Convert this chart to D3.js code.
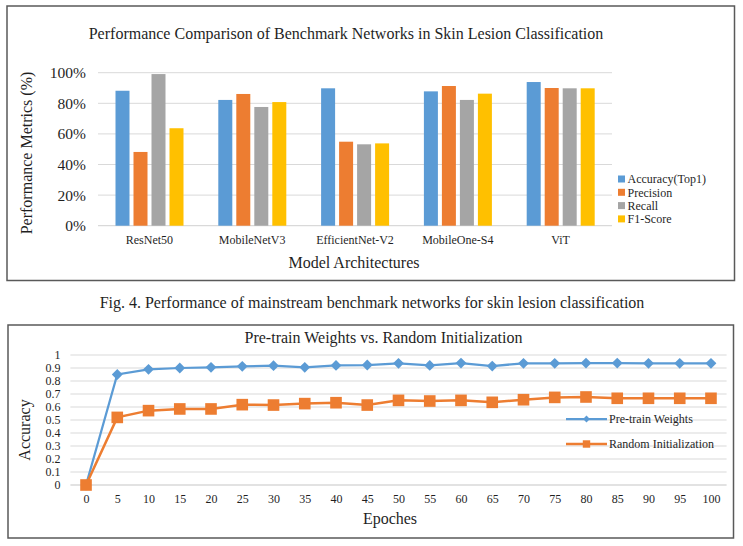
<!DOCTYPE html>
<html>
<head>
<meta charset="utf-8">
<script src="https://cdn.jsdelivr.net/npm/d3@7"></script>
<style>
  html, body { margin: 0; padding: 0; background: #fff; }
  svg text { font-family: "Liberation Serif", "Times New Roman", serif; fill: #1f1f1f; }
</style>
</head>
<body>
<svg id="chart" width="743" height="546"></svg>
<script>
// ---- Data: top chart (grouped bars) ----
const models = ["ResNet50", "MobileNetV3", "EfficientNet-V2", "MobileOne-S4", "ViT"];
const metricNames = ["Accuracy(Top1)", "Precision", "Recall", "F1-Score"];
const accuracy  = [0.882, 0.822, 0.898, 0.878, 0.939];
const precision = [0.482, 0.861, 0.549, 0.913, 0.900];
const recall    = [0.991, 0.776, 0.532, 0.822, 0.898];
const f1score   = [0.637, 0.808, 0.538, 0.863, 0.898];
const pctTicks  = [0, 0.2, 0.4, 0.6, 0.8, 1.0];

// ---- Data: bottom chart (lines) ----
const epochs = [0, 5, 10, 15, 20, 25, 30, 35, 40, 45, 50, 55, 60, 65, 70, 75, 80, 85, 90, 95, 100];
const pretrainWeights = [0, 0.85, 0.89, 0.90, 0.905, 0.913, 0.918, 0.905, 0.92, 0.923, 0.936,
                         0.92, 0.938, 0.915, 0.936, 0.936, 0.938, 0.938, 0.936, 0.936, 0.936];
const randomInit = [0, 0.52, 0.572, 0.585, 0.585, 0.618, 0.615, 0.626, 0.633, 0.615, 0.651,
                    0.646, 0.651, 0.636, 0.656, 0.674, 0.677, 0.667, 0.667, 0.667, 0.667];
const accTicks = [0, 0.1, 0.2, 0.3, 0.4, 0.5, 0.6, 0.7, 0.8, 0.9, 1];

const colors = ["#5B9BD5", "#ED7D31", "#A5A5A5", "#FFC000"];
const gridColor = "#D9D9D9";
const serif = "'Liberation Serif', 'Times New Roman', serif";

const svg = d3.select("#chart");

// =================== TOP CHART ===================
const gTop = svg.append("g");
gTop.append("rect").attr("x", 7).attr("y", 6).attr("width", 727.5).attr("height", 274.5)
  .attr("fill", "none").attr("stroke", "#595959").attr("stroke-width", 1.5);

gTop.append("text").attr("x", 346).attr("y", 39).attr("text-anchor", "middle")
  .attr("font-size", 16).text("Performance Comparison of Benchmark Networks in Skin Lesion Classification");

const x0 = d3.scaleBand().domain(models).range([98, 612]).paddingInner(0).paddingOuter(0);
const x1 = d3.scaleBand().domain(metricNames).range([17.5, 85.5]).paddingInner(4 / 18).paddingOuter(0);
const yTop = d3.scaleLinear().domain([0, 1]).range([225.7, 72.7]);

// gridlines
gTop.append("g").selectAll("line").data(pctTicks).join("line")
  .attr("x1", 98).attr("x2", 612)
  .attr("y1", d => yTop(d)).attr("y2", d => yTop(d))
  .attr("stroke", gridColor).attr("stroke-width", d => d === 0 ? 1.3 : 1);

// y axis labels
const yAxisTop = d3.axisLeft(yTop).tickValues(pctTicks).tickFormat(d3.format(".0%")).tickSize(0).tickPadding(12);
const yg = gTop.append("g").attr("transform", "translate(98,0)").call(yAxisTop);
yg.select(".domain").remove();
yg.selectAll("text").attr("font-size", 15.5).attr("fill", "#1f1f1f").style("font-family", serif);

// bars
const seriesTop = [accuracy, precision, recall, f1score];
const groups = gTop.append("g").selectAll("g").data(models).join("g")
  .attr("transform", d => `translate(${x0(d)},0)`);
groups.selectAll("rect").data((d, i) => metricNames.map((m, j) => ({ m, v: seriesTop[j][i], j })))
  .join("rect")
  .attr("x", d => x1(d.m)).attr("width", x1.bandwidth())
  .attr("y", d => yTop(d.v)).attr("height", d => yTop(0) - yTop(d.v))
  .attr("fill", d => colors[d.j]);

// x labels
const xAxisTop = d3.axisBottom(x0).tickSize(0).tickPadding(10);
const xg = gTop.append("g").attr("transform", `translate(0,${yTop(0)})`).call(xAxisTop);
xg.select(".domain").remove();
xg.selectAll("text").attr("font-size", 12).attr("fill", "#1f1f1f").style("font-family", serif);

// axis titles
gTop.append("text").attr("transform", "translate(32,153) rotate(-90)").attr("text-anchor", "middle")
  .attr("font-size", 16).text("Performance Metrics (%)");
gTop.append("text").attr("x", 354).attr("y", 268).attr("text-anchor", "middle")
  .attr("font-size", 16).text("Model Architectures");

// legend
const lg = gTop.append("g").selectAll("g").data(metricNames).join("g")
  .attr("transform", (d, i) => `translate(618,${179 + i * 13.3})`);
lg.append("rect").attr("x", 0).attr("y", -3.5).attr("width", 7).attr("height", 7)
  .attr("fill", (d, i) => colors[i]);
lg.append("text").attr("x", 9.5).attr("y", 4.2).attr("font-size", 12).text(d => d);

// caption
svg.append("text").attr("x", 372).attr("y", 308).attr("text-anchor", "middle")
  .attr("font-size", 16).text("Fig. 4. Performance of mainstream benchmark networks for skin lesion classification");

// =================== BOTTOM CHART ===================
const gBot = svg.append("g");
gBot.append("rect").attr("x", 8).attr("y", 325).attr("width", 725.5).attr("height", 213)
  .attr("fill", "none").attr("stroke", "#595959").attr("stroke-width", 1.5);

gBot.append("text").attr("x", 383.5).attr("y", 343).attr("text-anchor", "middle")
  .attr("font-size", 16).text("Pre-train Weights vs. Random Initialization");

const xB = d3.scalePoint().domain(epochs).range([70.4, 726.6]).padding(0.5);
const yB = d3.scaleLinear().domain([0, 1]).range([485, 355]);

gBot.append("g").selectAll("line").data(accTicks).join("line")
  .attr("x1", 70.4).attr("x2", 726.6)
  .attr("y1", d => yB(d)).attr("y2", d => yB(d))
  .attr("stroke", gridColor).attr("stroke-width", d => d === 0 ? 1.3 : 1);

const yAxisB = d3.axisLeft(yB).tickValues(accTicks).tickFormat(d => String(+d.toFixed(1))).tickSize(0).tickPadding(10);
const ygB = gBot.append("g").attr("transform", "translate(70.4,0)").call(yAxisB);
ygB.select(".domain").remove();
ygB.selectAll("text").attr("font-size", 12).attr("fill", "#1f1f1f").style("font-family", serif);

const xAxisB = d3.axisBottom(xB).tickSize(0).tickPadding(9);
const xgB = gBot.append("g").attr("transform", `translate(0,${yB(0)})`).call(xAxisB);
xgB.select(".domain").remove();
xgB.selectAll("text").attr("font-size", 12).attr("fill", "#1f1f1f").style("font-family", serif);

gBot.append("text").attr("transform", "translate(30,430) rotate(-90)").attr("text-anchor", "middle")
  .attr("font-size", 16).text("Accuracy");
gBot.append("text").attr("x", 390).attr("y", 524).attr("text-anchor", "middle")
  .attr("font-size", 16).text("Epoches");

const line = d3.line().x((d, i) => xB(epochs[i])).y(d => yB(d));
const diamond = d3.symbol().type(d3.symbolDiamond2);
const square = d3.symbol().type(d3.symbolSquare);

// pretrain line
gBot.append("path").datum(pretrainWeights).attr("d", line)
  .attr("fill", "none").attr("stroke", colors[0]).attr("stroke-width", 2.25);
gBot.append("g").selectAll("path").data(pretrainWeights).join("path")
  .attr("transform", (d, i) => `translate(${xB(epochs[i])},${yB(d)})`)
  .attr("d", diamond.size(75)()).attr("fill", colors[0]);

// random line
gBot.append("path").datum(randomInit).attr("d", line)
  .attr("fill", "none").attr("stroke", colors[1]).attr("stroke-width", 2.5);
gBot.append("g").selectAll("path").data(randomInit).join("path")
  .attr("transform", (d, i) => `translate(${xB(epochs[i])},${yB(d)})`)
  .attr("d", square.size(135)()).attr("fill", colors[1]);

// legend
const legB = [
  { name: "Pre-train Weights", color: colors[0], sym: diamond.size(30)(), w: 2.25, y: 419 },
  { name: "Random Initialization", color: colors[1], sym: square.size(55)(), w: 2.5, y: 444 }
];
const lgB = gBot.append("g").selectAll("g").data(legB).join("g")
  .attr("transform", d => `translate(566,${d.y})`);
lgB.append("line").attr("x1", 0).attr("x2", 41).attr("stroke", d => d.color).attr("stroke-width", d => d.w);
lgB.append("path").attr("transform", "translate(20.5,0)").attr("d", d => d.sym).attr("fill", d => d.color);
lgB.append("text").attr("x", 43).attr("y", 4.2).attr("font-size", 12).text(d => d.name);
</script>
</body>
</html>
